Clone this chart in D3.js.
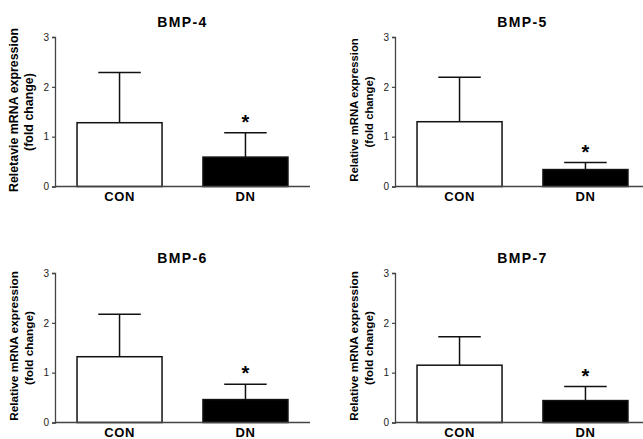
<!DOCTYPE html>
<html>
<head>
<meta charset="utf-8">
<script src="https://cdn.jsdelivr.net/npm/d3@7/dist/d3.min.js"></script>
<style>
  html, body { margin: 0; padding: 0; background: #fff; }
  svg { display: block; font-family: "Liberation Sans", Arial, sans-serif; }
</style>
</head>
<body>
<svg id="chart" width="643" height="439"></svg>
<script>
// ---- data ----
const panelTitles = ["BMP-4", "BMP-5", "BMP-6", "BMP-7"];
const yLabels = ["Reletavie mRNA expression", "Relative mRNA expression", "Relative mRNA expression", "Relative mRNA expression"];
const yLabel2 = "(fold change)";
const groups = ["CON", "DN"];
const conMean = [1.28, 1.30, 1.32, 1.15];
const conErr  = [1.01, 0.89, 0.85, 0.57];
const dnMean  = [0.59, 0.34, 0.46, 0.44];
const dnErr   = [0.49, 0.14, 0.31, 0.28];
const significant = [true, true, true, true];
const yTicks = [0, 1, 2, 3];

// ---- layout ----
const svg = d3.select("#chart");
const origins = [[0, 0], [340, 0], [0, 236], [340, 236]];
const labelSizes = [12.4, 11.3, 11.8, 11.8];
const axisX = 55, axisRight = 310, yTop = 37, yBottom = 186.5;

const x = d3.scaleBand().domain(groups).range([axisX, axisRight])
  .paddingInner(0.325).paddingOuter(0.175);
const y = d3.scaleLinear().domain([0, 3]).range([yBottom, yTop]);

panelTitles.forEach((title, i) => {
  const g = svg.append("g").attr("transform", `translate(${origins[i][0]},${origins[i][1]})`);
  const means = [conMean[i], dnMean[i]];
  const errs = [conErr[i], dnErr[i]];
  const rows = groups.map((k, j) => ({ key: k, mean: means[j], err: errs[j] }));

  // error bars (upper only), drawn first so bars cover stems
  const bw = x.bandwidth();
  rows.forEach(d => {
    const cx = x(d.key) + bw / 2;
    g.append("line").attr("x1", cx).attr("x2", cx)
      .attr("y1", y(d.mean)).attr("y2", y(d.mean + d.err))
      .attr("stroke", "#111").attr("stroke-width", 1.5);
    g.append("line").attr("x1", cx - bw / 4).attr("x2", cx + bw / 4)
      .attr("y1", y(d.mean + d.err)).attr("y2", y(d.mean + d.err))
      .attr("stroke", "#111").attr("stroke-width", 1.5);
  });

  // bars
  g.selectAll("rect.bar").data(rows).enter().append("rect")
    .attr("class", "bar")
    .attr("x", d => x(d.key))
    .attr("width", bw)
    .attr("y", d => y(d.mean))
    .attr("height", d => y(0) - y(d.mean))
    .attr("fill", d => d.key === "CON" ? "#fff" : "#000")
    .attr("stroke", "#111").attr("stroke-width", 1.5);

  // y axis
  const ya = g.append("g").attr("transform", `translate(${axisX},0)`)
    .call(d3.axisLeft(y).tickValues(yTicks).tickFormat(d3.format("d")).tickSize(3).tickPadding(3));
  ya.select(".domain").attr("stroke", "#444").attr("stroke-width", 1.3);
  ya.selectAll(".tick line").attr("stroke", "#444").attr("stroke-width", 1.2);
  ya.selectAll(".tick text").attr("font-size", 10).attr("fill", "#222")
    .attr("font-family", "'Liberation Sans', Arial, sans-serif");

  // x axis line
  const xa = g.append("g").attr("transform", `translate(0,${yBottom})`)
    .call(d3.axisBottom(x).tickSize(0).tickPadding(5));
  xa.select(".domain").attr("stroke", "#444").attr("stroke-width", 1.3)
    .attr("d", `M${axisX},0H${axisRight}`);
  xa.selectAll(".tick text").attr("font-size", 13).attr("font-weight", "bold")
    .attr("letter-spacing", 0.6).attr("fill", "#000")
    .attr("font-family", "'Liberation Sans', Arial, sans-serif")
    .attr("dy", "0.71em");

  // title
  g.append("text").attr("x", (axisX + axisRight) / 2).attr("y", yTop - 10)
    .attr("text-anchor", "middle").attr("font-size", 14).attr("font-weight", "bold")
    .attr("letter-spacing", 1.4).text(title);

  // y labels
  const cy = 110;
  g.append("text").attr("transform", `translate(${axisX - 37},${cy}) rotate(-90)`)
    .attr("text-anchor", "middle").attr("font-size", labelSizes[i]).attr("font-weight", "bold")
    .text(yLabels[i]);
  g.append("text").attr("transform", `translate(${axisX - 22},${cy + 2}) rotate(-90)`)
    .attr("text-anchor", "middle").attr("font-size", labelSizes[i]).attr("font-weight", "bold")
    .text(yLabel2);

  // significance star
  if (significant[i]) {
    const d = rows[1];
    g.append("text").attr("x", x(d.key) + bw / 2).attr("y", y(d.mean + d.err) - 4)
      .attr("text-anchor", "middle").attr("font-size", 20).attr("font-weight", "bold")
      .text("*");
  }
});
</script>
</body>
</html>
